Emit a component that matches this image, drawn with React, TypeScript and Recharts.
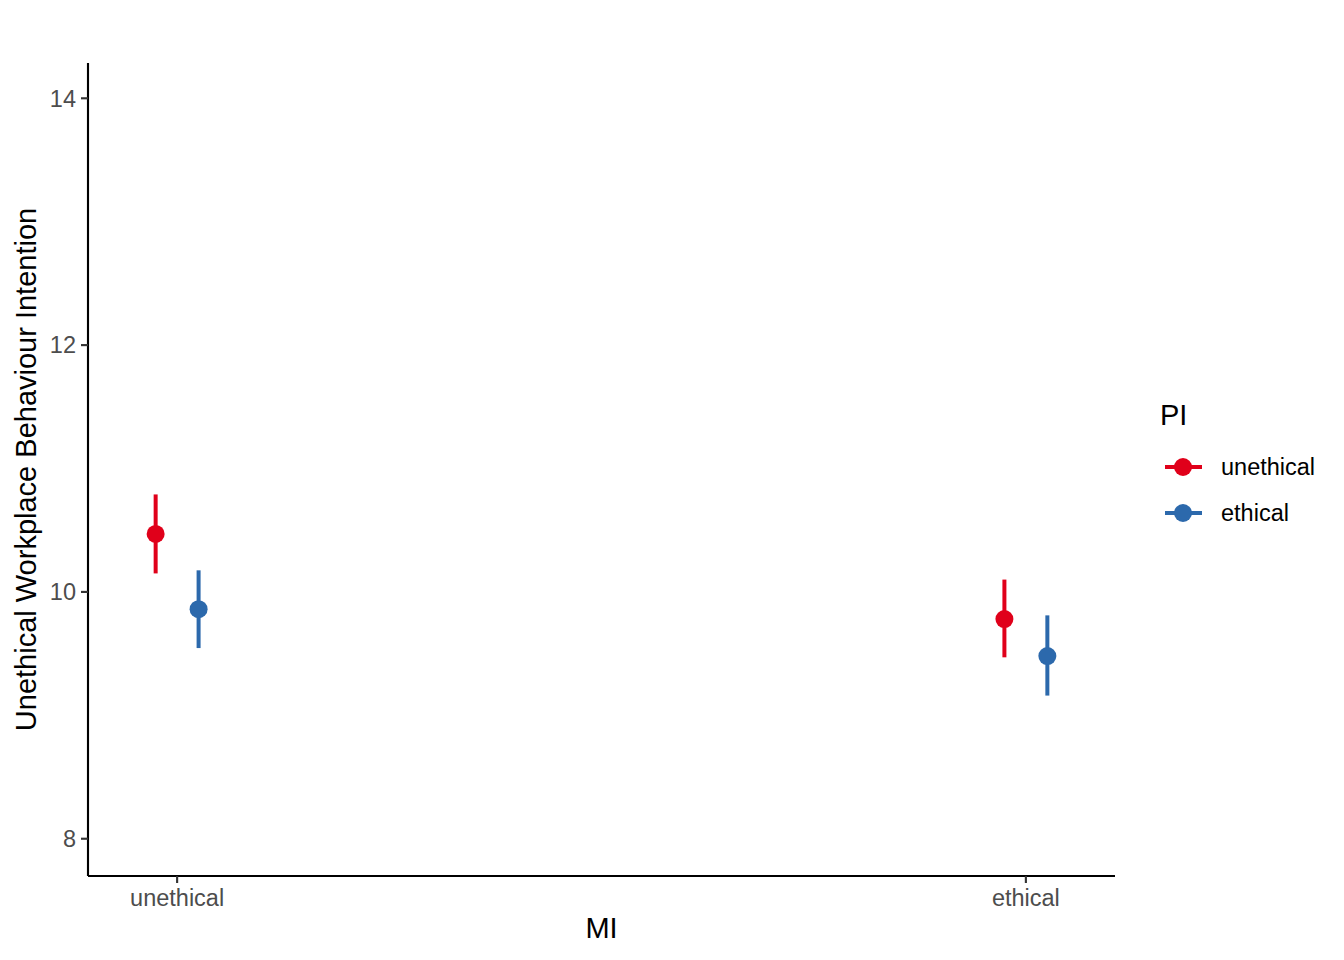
import React from "react";
import {
  ComposedChart,
  Scatter,
  ErrorBar,
  XAxis,
  YAxis,
  Legend,
  Label,
} from "recharts";

// ---- data ----
const categories = ["unethical", "ethical"]; // MI levels (x axis)
const seriesNames = ["unethical", "ethical"]; // PI levels (legend)
const seriesColors = ["#E0001A", "#2C69AC"];

const unethicalMean = [10.47, 9.78];
const unethicalLow = [10.15, 9.47];
const unethicalHigh = [10.79, 10.1];

const ethicalMean = [9.86, 9.48];
const ethicalLow = [9.545, 9.16];
const ethicalHigh = [10.175, 9.81];

const yTicks = [8, 10, 12, 14];
const xTicks = [1, 2];

const DODGE = 0.0253;

const FONT = "'Liberation Sans', Arial, Helvetica, sans-serif";

function buildSeries(mean: number[], low: number[], high: number[], offset: number) {
  return categories.map((c, i) => ({
    x: i + 1 + offset,
    y: mean[i],
    err: [mean[i] - low[i], high[i] - mean[i]],
    cat: c,
  }));
}

const unethicalData = buildSeries(unethicalMean, unethicalLow, unethicalHigh, -DODGE);
const ethicalData = buildSeries(ethicalMean, ethicalLow, ethicalHigh, DODGE);

const makeDot = (color: string) => (props: any) => (
  <circle cx={props.cx} cy={props.cy} r={9} fill={color} stroke="none" />
);

const LegendContent = () => (
  <div style={{ fontFamily: FONT, color: "#000" }}>
    <div style={{ fontSize: 29, lineHeight: "29px", marginBottom: 14, marginLeft: 0 }}>PI</div>
    {seriesNames.map((n, i) => (
      <div key={n} style={{ display: "flex", alignItems: "center", height: 46 }}>
        <svg width={46} height={46} style={{ display: "block" }}>
          <line x1={5} x2={42} y1={23} y2={23} stroke={seriesColors[i]} strokeWidth={4} />
          <circle cx={23} cy={23} r={9} fill={seriesColors[i]} />
        </svg>
        <span style={{ fontSize: 23.5, marginLeft: 15, color: "#000" }}>{n}</span>
      </div>
    ))}
  </div>
);

export default function App() {
  return (
    <div style={{ position: "absolute", left: 0, top: 0, width: 1344, height: 960, background: "#fff" }}>
      <ComposedChart
        width={1344}
        height={960}
        margin={{ top: 63, right: 229, bottom: 0, left: 0 }}
      >
        <XAxis
          type="number"
          dataKey="x"
          domain={[0.895, 2.105]}
          ticks={xTicks}
          tickFormatter={(v: number) => categories[Math.round(v) - 1]}
          allowDataOverflow
          height={84}
          axisLine={{ stroke: "#000", strokeWidth: 2.13 }}
          tickLine={{ stroke: "#333333", strokeWidth: 2.13 }}
          tickSize={7}
          tickMargin={6}
          tick={{ fill: "#4D4D4D", fontSize: 23.5, fontFamily: FONT }}
        >
          <Label
            content={(p: any) => {
              const vb = p.viewBox;
              return (
                <text
                  x={vb.x + vb.width / 2}
                  y={vb.y + 62}
                  textAnchor="middle"
                  fontSize={29}
                  fontFamily={FONT}
                  fill="#000"
                >
                  MI
                </text>
              );
            }}
          />
        </XAxis>
        <YAxis
          type="number"
          dataKey="y"
          domain={[7.698, 14.286]}
          ticks={yTicks}
          allowDataOverflow
          width={88}
          axisLine={{ stroke: "#000", strokeWidth: 2.13 }}
          tickLine={{ stroke: "#333333", strokeWidth: 2.13 }}
          tickSize={7}
          tickMargin={5}
          tick={{ fill: "#4D4D4D", fontSize: 23.5, fontFamily: FONT }}
        >
          <Label
            content={(p: any) => {
              const vb = p.viewBox;
              const cy = vb.y + vb.height / 2;
              return (
                <text
                  x={36}
                  y={cy}
                  transform={`rotate(-90, 36, ${cy})`}
                  textAnchor="middle"
                  fontSize={29}
                  fontFamily={FONT}
                  fill="#000"
                >
                  Unethical Workplace Behaviour Intention
                </text>
              );
            }}
          />
        </YAxis>
        <Legend
          layout="vertical"
          align="center"
          verticalAlign="middle"
          content={() => <LegendContent />}
          wrapperStyle={{ position: "absolute", left: 1160, top: 401, width: 180, height: 160 }}
        />
        <Scatter
          name={seriesNames[0]}
          data={unethicalData}
          fill={seriesColors[0]}
          shape={makeDot(seriesColors[0])}
          isAnimationActive={false}
        >
          <ErrorBar dataKey="err" direction="y" width={0} stroke={seriesColors[0]} strokeWidth={4} isAnimationActive={false} />
        </Scatter>
        <Scatter
          name={seriesNames[1]}
          data={ethicalData}
          fill={seriesColors[1]}
          shape={makeDot(seriesColors[1])}
          isAnimationActive={false}
        >
          <ErrorBar dataKey="err" direction="y" width={0} stroke={seriesColors[1]} strokeWidth={4} isAnimationActive={false} />
        </Scatter>
      </ComposedChart>
    </div>
  );
}
